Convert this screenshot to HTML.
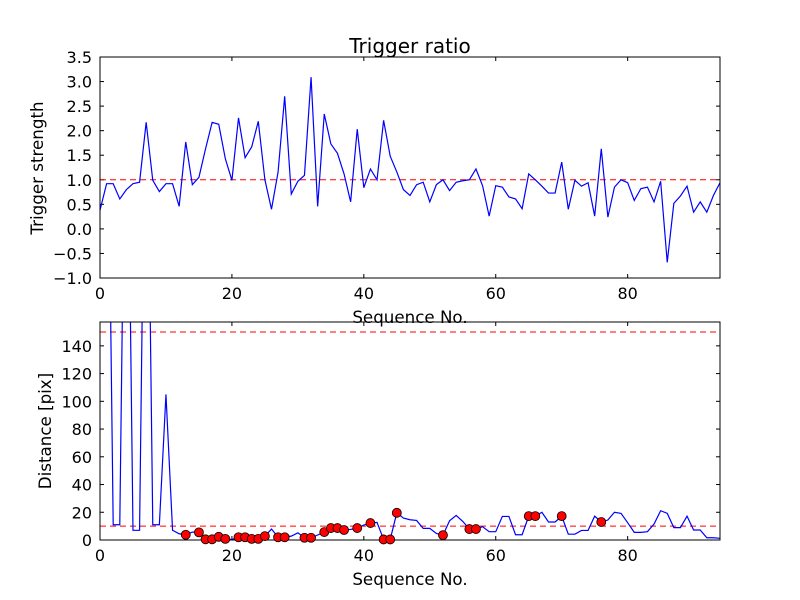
<!DOCTYPE html>
<html><head><meta charset="utf-8"><style>
body{margin:0;background:#fff}
svg{display:block;font-family:"DejaVu Sans","Liberation Sans",sans-serif}
</style></head><body>
<svg id="chart" width="800" height="600"></svg>
<script>
const ratioValues=[0.38,0.92,0.92,0.61,0.80,0.92,0.95,2.17,0.99,0.76,0.92,0.92,0.46,1.77,0.90,1.05,1.63,2.17,2.13,1.43,0.99,2.26,1.45,1.67,2.19,1.0,0.40,1.16,2.70,0.71,0.97,1.09,3.09,0.46,2.34,1.73,1.54,1.12,0.55,2.03,0.84,1.22,1.0,2.21,1.48,1.16,0.80,0.68,0.90,0.95,0.55,0.90,1.0,0.78,0.95,0.98,1.0,1.22,0.88,0.26,0.88,0.85,0.65,0.61,0.41,1.12,1.0,0.87,0.73,0.73,1.36,0.40,0.99,0.87,0.94,0.26,1.63,0.24,0.85,1.0,0.94,0.58,0.82,0.85,0.55,0.97,-0.68,0.52,0.67,0.87,0.34,0.55,0.34,0.68,0.94];
const distValues=[400,400,11,11,400,7,7,400,11,11,105,7,4.5,3.8,5.7,5.5,0.5,0.5,2.3,0.8,0.4,2,2,0.8,0.8,2.8,7.9,2,2,2.8,5.2,1.6,1.6,3.6,5.7,8.6,8.6,7.2,7.6,8.6,10.8,12.2,12.7,0.4,0.4,19.6,15.8,14.6,14.1,8.4,8.4,4.7,3.5,13.9,17.7,13.4,7.9,7.9,9.6,6,6,17,17,3.8,3.8,17.2,17.2,20,13,13,17.2,4.2,4.2,6.9,6.9,17.2,13,14.4,20,19.2,12.5,5.5,5.5,6,11.5,21.1,19.2,8.9,8.9,17.2,7.2,7.2,1.6,1.6,1.2];
const markerIdx=[13,15,16,17,18,19,21,22,23,24,25,27,28,31,32,34,35,36,37,39,41,43,44,45,52,56,57,65,66,70,76];
const xTicks=[0,20,40,60,80];
const topYTicks=[-1.0,-0.5,0.0,0.5,1.0,1.5,2.0,2.5,3.0,3.5];
const botYTicks=[0,20,40,60,80,100,120,140];
const ratioThreshold=[1.0];
const distThresholds=[10,150];

const NS="http://www.w3.org/2000/svg";
const svg=document.getElementById('chart');
function mk(t,a,p){const e=document.createElementNS(NS,t);for(const k in a)e.setAttribute(k,a[k]);(p||svg).appendChild(e);return e;}
const L=100,R=720,XMAX=94;
const sx=v=>L+(R-L)*v/XMAX;
function axes(top,bot,ymin,ymax,yt,fmt,name){
  const sy=v=>bot-(bot-top)*(v-ymin)/(ymax-ymin);
  const g=mk('g',{});
  
  
  const clipId=name+'-clip';
  const cp=mk('clipPath',{id:clipId},g);mk('rect',{x:L,y:top,width:R-L,height:bot-top},cp);
  xTicks.forEach(t=>{const x=sx(t);
    mk('line',{x1:x,x2:x,y1:bot,y2:bot-4,stroke:'#000'},g);mk('line',{x1:x,x2:x,y1:top,y2:top+4,stroke:'#000'},g);
    const tx=mk('text',{x:x,y:bot+21,'text-anchor':'middle','font-size':'16'},g);tx.textContent=t;
    
    });
  yt.forEach(t=>{const y=sy(t);
    mk('line',{x1:L,x2:L+4,y1:y,y2:y,stroke:'#000'},g);mk('line',{x1:R,x2:R-4,y1:y,y2:y,stroke:'#000'},g);
    const tx=mk('text',{x:L-8,y:y+6,'text-anchor':'end','font-size':'16'},g);tx.textContent=fmt(t);
    
    });
  const pg=mk('g',{'clip-path':'url(#'+clipId+')'},g);
  return {sy,g,pg};
}
// top
const A=axes(57,278,-1,3.5,topYTicks,t=>t.toFixed(1).replace('-','\u2212'),'ratio-axes');
ratioThreshold.forEach(v=>{const l=mk('line',{x1:L,x2:R,y1:A.sy(v),y2:A.sy(v),stroke:'#f00','stroke-dasharray':'6,4','stroke-width':1},A.pg);
  
  });
const p1=mk('polyline',{points:ratioValues.map((v,i)=>sx(i)+','+A.sy(v)).join(' '),fill:'none',stroke:'#00f','stroke-width':1.2},A.pg);


mk('rect',{x:L,y:57,width:R-L,height:221,fill:'none',stroke:'#000'},A.g);
// bottom
const B=axes(322,540,0,157.2,botYTicks,t=>String(t),'distance-axes');
distThresholds.forEach(v=>{const l=mk('line',{x1:L,x2:R,y1:B.sy(v),y2:B.sy(v),stroke:'#f00','stroke-dasharray':'6,4','stroke-width':1},B.pg);
  
  });
const p2=mk('polyline',{points:distValues.map((v,i)=>sx(i)+','+B.sy(v)).join(' '),fill:'none',stroke:'#00f','stroke-width':1.2},B.pg);


const mg=mk('g',{},svg);
markerIdx.forEach(i=>{const c=mk('circle',{cx:sx(i),cy:B.sy(distValues[i]),r:4.5,fill:'#f00',stroke:'#000','stroke-width':0.8},mg);
  
  });
mk('rect',{x:L,y:322,width:R-L,height:218,fill:'none',stroke:'#000'},B.g);
// labels
function txt(s,a,name){const t=mk('text',a);t.textContent=s;}
txt('Trigger ratio',{x:410,y:53,'text-anchor':'middle','font-size':'20'},'chart-title');
txt('Sequence No.',{x:410,y:323,'text-anchor':'middle','font-size':'16.7'},'top-x-axis-title');
txt('Sequence No.',{x:410,y:585,'text-anchor':'middle','font-size':'16.7'},'bottom-x-axis-title');
txt('Trigger strength',{x:0,y:0,'text-anchor':'middle','font-size':'16.7',transform:'translate(43,168) rotate(-90)'},'top-y-axis-title');
txt('Distance [pix]',{x:0,y:0,'text-anchor':'middle','font-size':'16.7',transform:'translate(51,431) rotate(-90)'},'bottom-y-axis-title');
</script>
</body></html>
